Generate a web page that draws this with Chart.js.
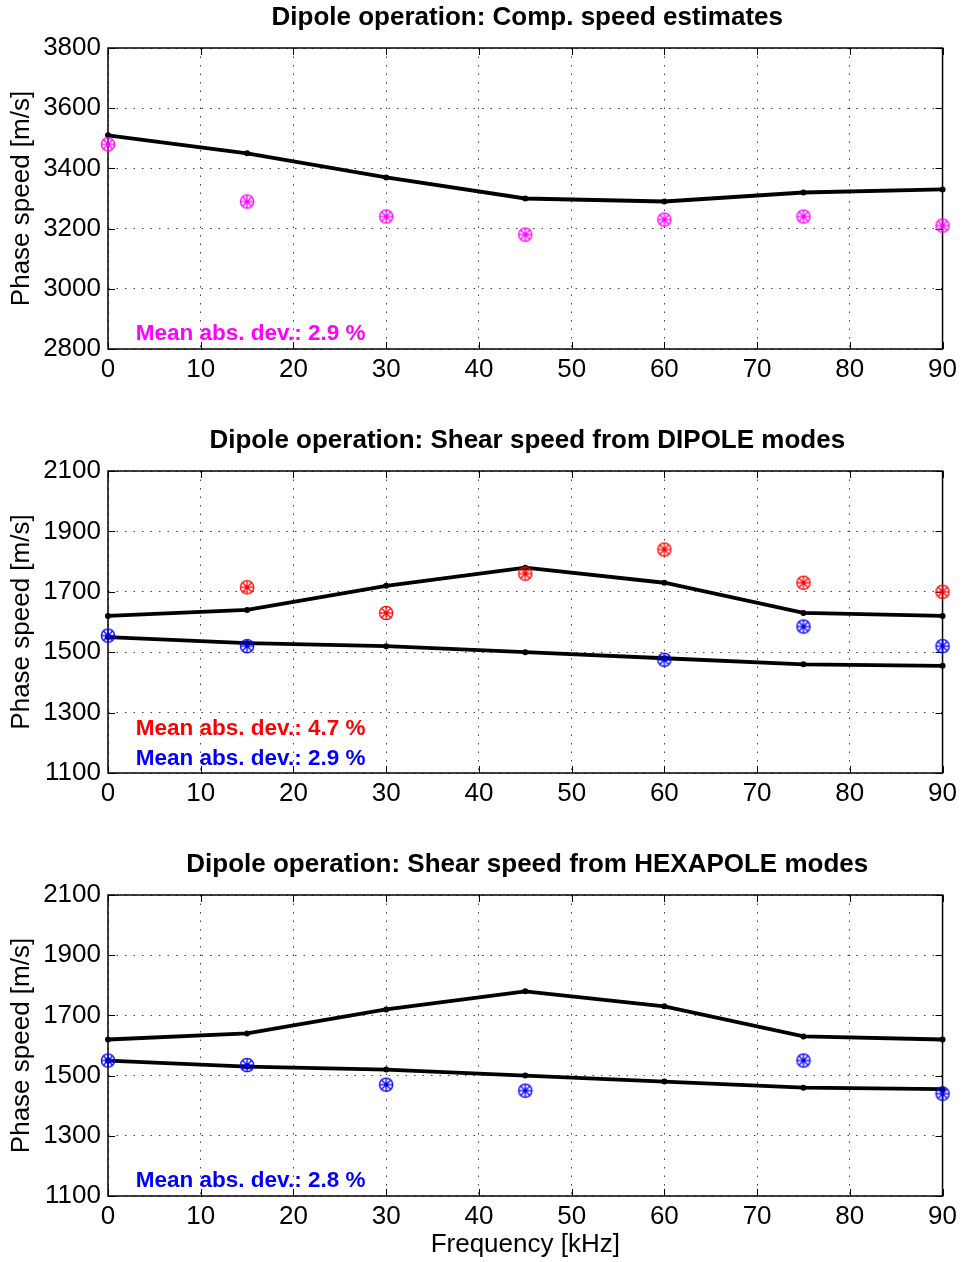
<!DOCTYPE html>
<html>
<head>
<meta charset="utf-8">
<script src="https://cdn.jsdelivr.net/npm/chart.js@4/dist/chart.umd.min.js"></script>
<style>
  html, body { margin: 0; padding: 0; background: #fff; }
  #figure { position: relative; width: 962px; height: 1262px; }
  #figure canvas { position: absolute; left: 0; }
</style>
</head>
<body>
<div id="figure">
  <canvas id="compPanel" width="962" height="423" style="top:0px;width:962px;height:423px"></canvas>
  <canvas id="dipolePanel" width="962" height="424" style="top:423px;width:962px;height:424px"></canvas>
  <canvas id="hexapolePanel" width="962" height="415" style="top:847px;width:962px;height:415px"></canvas>
</div>
<script>
// Frequencies (kHz) at which the speeds were evaluated
const freqKHz = [0, 15, 30, 45, 60, 75, 90];

// Compressional speed: model curve and estimates (m/s)
const compModel = [3510, 3450, 3370, 3300, 3290, 3320, 3330];
const compEstimate = [3480, 3290, 3240, 3180, 3230, 3240, 3210];

// Shear speed model curves (m/s)
const shearModelUpper = [1620, 1640, 1720, 1780, 1730, 1630, 1620];
const shearModelLower = [1550, 1530, 1520, 1500, 1480, 1460, 1455];

// Shear speed estimates from dipole modes (m/s)
const dipoleEstimateUpper = [null, 1715, 1630, 1760, 1840, 1730, 1700];
const dipoleEstimateLower = [1555, 1520, null, null, 1475, 1585, 1520];

// Shear speed estimates from hexapole modes (m/s)
const hexapoleEstimate = [1550, 1535, 1470, 1450, null, 1550, 1440];

// Tick labels
const xTicks = [0, 10, 20, 30, 40, 50, 60, 70, 80, 90];
const yTicksComp = [2800, 3000, 3200, 3400, 3600, 3800];
const yTicksShear = [1100, 1300, 1500, 1700, 1900, 2100];

// Mean absolute deviation labels
const devComp = ['Mean abs. dev.: 2.9 %'];
const devDipole = ['Mean abs. dev.: 4.7 %', 'Mean abs. dev.: 2.9 %'];
const devHexapole = ['Mean abs. dev.: 2.8 %'];

const FONT = '"Liberation Sans", Arial, Helvetica, sans-serif';

// Circle-with-asterisk marker sprite
function makeMarker(color) {
  const c = document.createElement('canvas');
  c.width = 18; c.height = 18;
  const g = c.getContext('2d');
  const r = 6.6, cx = 9, cy = 9;
  g.strokeStyle = color;
  g.fillStyle = color;
  g.lineWidth = 1.3;
  g.beginPath();
  g.arc(cx, cy, r, 0, Math.PI * 2);
  g.stroke();
  for (let k = 0; k < 4; k++) {
    const a = k * Math.PI / 4;
    g.beginPath();
    g.moveTo(cx - r * Math.cos(a), cy - r * Math.sin(a));
    g.lineTo(cx + r * Math.cos(a), cy + r * Math.sin(a));
    g.stroke();
  }
  g.beginPath();
  g.arc(cx, cy, 1.8, 0, Math.PI * 2);
  g.fill();
  return c;
}

function pairs(values) {
  return freqKHz.map((f, i) => ({ x: f, y: values[i] }));
}

function modelLine(values) {
  return {
    data: pairs(values),
    showLine: true,
    borderColor: '#000',
    borderWidth: 3.8,
    pointRadius: 3,
    pointBackgroundColor: '#000',
    pointBorderWidth: 0,
    clip: false,
    order: 2
  };
}

function estimates(values, color) {
  return {
    data: pairs(values),
    showLine: false,
    pointStyle: makeMarker(color),
    pointRadius: 7,
    clip: false,
    order: 1
  };
}

// Title, axes box, inward tick marks and deviation labels
const panelDecor = {
  id: 'panelDecor',
  beforeDatasetsDraw(chart) {
    const { ctx, chartArea: a, scales } = chart;
    ctx.save();
    ctx.strokeStyle = '#000';
    ctx.lineWidth = 1;
    ctx.beginPath();
    scales.x.ticks.forEach(t => {
      const px = Math.round(scales.x.getPixelForValue(t.value)) + 0.5;
      ctx.moveTo(px, a.bottom); ctx.lineTo(px, a.bottom - 7);
      ctx.moveTo(px, a.top); ctx.lineTo(px, a.top + 7);
    });
    scales.y.ticks.forEach(t => {
      const py = Math.round(scales.y.getPixelForValue(t.value)) + 0.5;
      ctx.moveTo(a.left, py); ctx.lineTo(a.left + 7, py);
      ctx.moveTo(a.right, py); ctx.lineTo(a.right - 7, py);
    });
    ctx.stroke();
    ctx.lineWidth = 1.5;
    ctx.strokeRect(a.left, a.top, a.right - a.left, a.bottom - a.top);
    ctx.restore();
  },
  afterDraw(chart, args, opts) {
    const { ctx, chartArea: a, scales } = chart;
    ctx.save();
    ctx.fillStyle = '#000';
    ctx.font = 'bold 26px ' + FONT;
    ctx.textAlign = 'center';
    ctx.textBaseline = 'middle';
    ctx.fillText(opts.heading, (a.left + a.right) / 2 + 2, 18);
    ctx.font = 'bold 22.5px ' + FONT;
    ctx.textAlign = 'left';
    (opts.notes || []).forEach(n => {
      ctx.fillStyle = n.color;
      ctx.fillText(n.text, scales.x.getPixelForValue(n.x), scales.y.getPixelForValue(n.y));
    });
    ctx.restore();
  }
};

function makePanel(id, datasets, yTicks, heading, notes, showXTitle) {
  const tickFont = { family: FONT, size: 26 };
  const plain = v => String(v);
  new Chart(document.getElementById(id), {
    type: 'scatter',
    data: { datasets },
    plugins: [panelDecor],
    options: {
      responsive: false,
      animation: false,
      events: [],
      layout: { padding: { left: 0, right: 19, top: 48, bottom: 0 } },
      plugins: {
        legend: { display: false },
        tooltip: { enabled: false },
        panelDecor: { heading, notes }
      },
      scales: {
        x: {
          type: 'linear',
          min: xTicks[0],
          max: xTicks[xTicks.length - 1],
          afterBuildTicks: s => { s.ticks = xTicks.map(v => ({ value: v })); },
          afterFit: s => { s.height = showXTitle ? 66 : 74; },
          ticks: { font: tickFont, color: '#000', padding: 5, maxRotation: 0, autoSkip: false, callback: plain },
          grid: { color: 'rgba(0,0,0,0.75)', lineWidth: 1, drawTicks: false },
          border: { display: false, dash: [1.5, 7] },
          title: {
            display: showXTitle,
            text: 'Frequency [kHz]',
            font: { family: FONT, size: 26 },
            color: '#000',
            padding: { top: 0, bottom: 2 }
          }
        },
        y: {
          type: 'linear',
          min: yTicks[0],
          max: yTicks[yTicks.length - 1],
          afterBuildTicks: s => { s.ticks = yTicks.map(v => ({ value: v })); },
          afterFit: s => { s.width = 108; },
          ticks: { font: tickFont, color: '#000', padding: 7, autoSkip: false, callback: plain },
          grid: { color: 'rgba(0,0,0,0.75)', lineWidth: 1, drawTicks: false },
          border: { display: false, dash: [1.5, 7] },
          title: {
            display: true,
            text: 'Phase speed [m/s]',
            font: { family: FONT, size: 26 },
            color: '#000',
            padding: { top: 6, bottom: 0 }
          }
        }
      }
    }
  });
}

makePanel('compPanel',
  [estimates(compEstimate, '#ff00ff'), modelLine(compModel)],
  yTicksComp,
  'Dipole operation: Comp. speed estimates',
  [{ text: devComp[0], color: '#ff00ff', x: 3, y: 2850 }],
  false);

makePanel('dipolePanel',
  [estimates(dipoleEstimateUpper, '#ff0000'), estimates(dipoleEstimateLower, '#0000ff'),
   modelLine(shearModelUpper), modelLine(shearModelLower)],
  yTicksShear,
  'Dipole operation: Shear speed from DIPOLE modes',
  [{ text: devDipole[0], color: '#ff0000', x: 3, y: 1247 },
   { text: devDipole[1], color: '#0000ff', x: 3, y: 1147 }],
  false);

makePanel('hexapolePanel',
  [estimates(hexapoleEstimate, '#0000ff'), modelLine(shearModelUpper), modelLine(shearModelLower)],
  yTicksShear,
  'Dipole operation: Shear speed from HEXAPOLE modes',
  [{ text: devHexapole[0], color: '#0000ff', x: 3, y: 1150 }],
  true);
</script>
</body>
</html>
